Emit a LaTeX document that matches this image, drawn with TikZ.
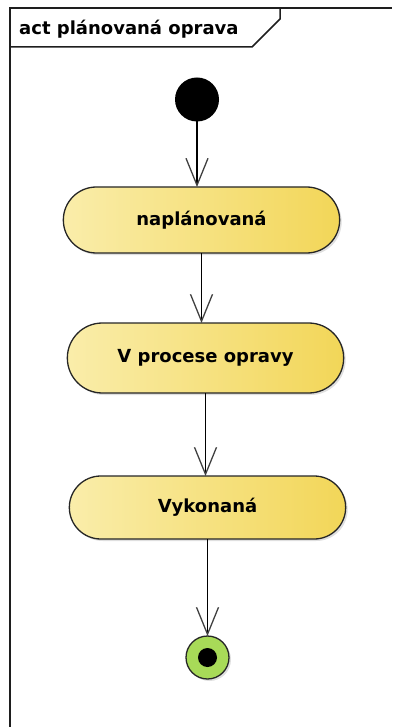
\documentclass[tikz,border=0pt]{standalone}
\usepackage{fontspec}
\setsansfont{DejaVu Sans}
\usepackage{tikz}
\usetikzlibrary{arrows.meta,positioning,shapes.misc,shadows}
\definecolor{actl}{RGB}{250,237,170}
\definecolor{actr}{RGB}{242,214,88}
\definecolor{endg}{RGB}{168,218,88}
\definecolor{frm}{RGB}{30,30,30}
\tikzset{
  action/.style={draw=black!85, line width=1.3pt, rounded rectangle, left color=actl, right color=actr,
    minimum width=283pt, minimum height=66pt, outer sep=0pt,
    font=\sffamily\bfseries\fontsize{18}{21}\selectfont,
    drop shadow={shadow xshift=2pt, shadow yshift=-2pt, opacity=.25}},
  start/.style={circle, fill=black, minimum size=44pt, inner sep=0pt, outer sep=0pt},
  stop/.style={circle, draw=black!85, line width=1.3pt, fill=endg, minimum size=43pt,
    inner sep=0pt, outer sep=0pt,
    drop shadow={shadow xshift=2pt, shadow yshift=-2pt, opacity=.25},
    path picture={\fill[black] (path picture bounding box.center) circle (9.5pt);}},
  flow/.style={draw=black, line width=1.4pt,
    -{Straight Barb[length=27pt,width=22pt,line width=1.3pt,color=black!75]}},
  frame/.style={draw=frm, line width=2pt},
  hdr/.style={draw=frm, line width=1.5pt},
  title/.style={font=\sffamily\bfseries\fontsize{18}{21}\selectfont, inner sep=0pt, anchor=base west}
}

\begin{document}
\begin{tikzpicture}[x=1pt, y=-1pt]
  \useasboundingbox (0,0) rectangle (392,727);
  % ramec diagramu
  \draw[frame] (10,727) -- (10,8) -- (392,8);
  \draw[hdr] (10,47) -- (252,47) -- (280,19) -- (280,8);
  \node[title] (nazov) at (19,35) {act plánovaná oprava};

  \node[start] (init) at (197,99.5) {};
  \node[action, below=65.5pt of init, xshift=4.5pt] (naplan) {naplánovaná};
  \node[action, below=70pt of naplan, xshift=4pt, minimum height=70pt] (proces) {V procese opravy};
  \node[action, below=83pt of proces, xshift=2pt, minimum height=63pt] (vykon) {Vykonaná};
  \node[stop, below=97pt of vykon] (koniec) {};

  \draw[flow] (init) -- (init |- naplan.north);
  \draw[flow] (naplan.south) -- (naplan.south |- proces.north);
  \draw[flow] (proces.south) -- (proces.south |- vykon.north);
  \draw[flow] (vykon.south) -- (vykon.south |- koniec.north);
\end{tikzpicture}
\end{document}
